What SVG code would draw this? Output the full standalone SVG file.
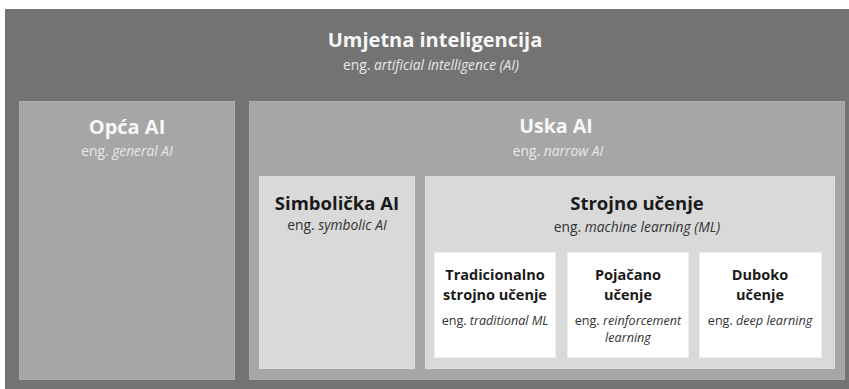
<svg xmlns="http://www.w3.org/2000/svg" width="849" height="389" viewBox="0 0 849 389">
<style>
text{font-family:"Open Sans","Liberation Sans",sans-serif;text-anchor:middle}
.t{font-weight:bold}
.s{font-style:italic}
.s tspan.n{font-style:normal}
.l0{fill:#737373}
.l1{fill:#a6a6a6;stroke:#acacac;stroke-width:1}
.l2{fill:#d9d9d9;stroke:#dedede;stroke-width:1}
.l3{fill:#ffffff;stroke:#eeeeee;stroke-width:1}
.w{fill:#f7f7f7}
.ws{fill:#e8e8e8}
.d{fill:#1a1a1a}
.ds{fill:#333333}
</style>
<rect width="849" height="389" fill="#ffffff"/>
<g id="ai">
<rect class="l0" x="5" y="9" width="844" height="380"/>
<text class="t w" x="435" y="47" font-size="20">Umjetna inteligencija</text>
<text class="s ws" x="431" y="70" font-size="13.8"><tspan class="n">eng. </tspan>artificial intelligence (AI)</text>
</g>
<g id="general">
<rect class="l1" x="19.5" y="101.5" width="215" height="278"/>
<text class="t w" x="127" y="134" font-size="20">Opća AI</text>
<text class="s ws" x="127" y="156" font-size="13.8"><tspan class="n">eng. </tspan>general AI</text>
</g>
<g id="narrow">
<rect class="l1" x="249.5" y="101.5" width="595" height="278"/>
<text class="t w" x="556" y="133" font-size="19.6">Uska AI</text>
<text class="s ws" x="558" y="156" font-size="13.8"><tspan class="n">eng. </tspan>narrow AI</text>
</g>
<g id="symbolic">
<rect class="l2" x="259.5" y="176.5" width="155" height="192"/>
<text class="t d" x="337" y="210" font-size="18.5">Simbolička AI</text>
<text class="s ds" x="337" y="230" font-size="13.8"><tspan class="n">eng. </tspan>symbolic AI</text>
</g>
<g id="ml">
<rect class="l2" x="425.5" y="176.5" width="409" height="192"/>
<text class="t d" x="637" y="210" font-size="18.5">Strojno učenje</text>
<text class="s ds" x="637" y="232" font-size="13.8"><tspan class="n">eng. </tspan>machine learning (ML)</text>
</g>
<g id="traditional">
<rect class="l3" x="434.5" y="252.5" width="121" height="105"/>
<text class="t d" x="495" y="280" font-size="14.5">Tradicionalno</text>
<text class="t d" x="495" y="300" font-size="14.5">strojno učenje</text>
<text class="s ds" x="495" y="325" font-size="12.6"><tspan class="n">eng. </tspan>traditional ML</text>
</g>
<g id="reinforcement">
<rect class="l3" x="567.5" y="252.5" width="121" height="105"/>
<text class="t d" x="628" y="280" font-size="14.5">Pojačano</text>
<text class="t d" x="628" y="300" font-size="14.5">učenje</text>
<text class="s ds" x="628" y="325" font-size="12.6"><tspan class="n">eng. </tspan>reinforcement</text>
<text class="s ds" x="628" y="342" font-size="12.6">learning</text>
</g>
<g id="deep">
<rect class="l3" x="699.5" y="252.5" width="122" height="105"/>
<text class="t d" x="760" y="280" font-size="14.5">Duboko</text>
<text class="t d" x="760" y="300" font-size="14.5">učenje</text>
<text class="s ds" x="760" y="325" font-size="12.6"><tspan class="n">eng. </tspan>deep learning</text>
</g>
<g id="connectors"></g>
</svg>
